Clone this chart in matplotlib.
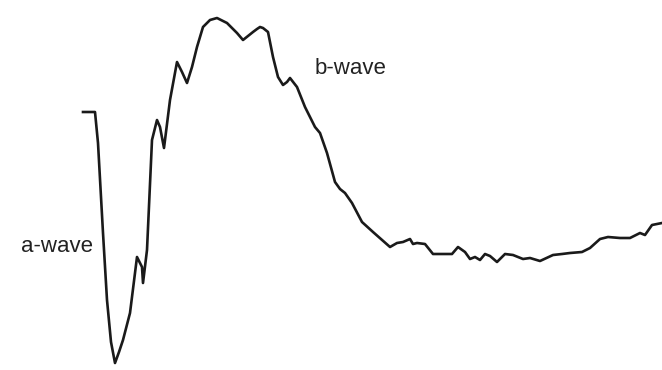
import matplotlib.pyplot as plt

# ERG trace: time (px units) and amplitude (baseline = 0, up positive)
time = [83, 95, 98, 103, 107, 111, 115, 119, 123, 130, 137, 142, 143, 147, 152, 157, 160,
        164, 170, 177, 182, 187, 192, 197, 203, 210, 217, 227, 237, 243, 248, 253, 257, 260,
        263, 268, 273, 278, 283, 287, 290, 297, 305, 315, 320, 327, 335, 340, 345, 352,
        362, 373, 390, 397, 403, 410, 413, 417, 425, 433, 440, 452, 458, 465, 470, 475,
        480, 485, 490, 497, 505, 513, 523, 530, 540, 553, 562, 570, 582, 590, 600, 608,
        620, 630, 640, 645, 652, 657, 662]
amplitude = [0, 0, -31, -121, -188, -230, -251, -240, -228, -201, -145, -155, -171, -138,
             -28, -8, -15, -36, 12, 50, 40, 29, 45, 65, 85, 92, 94, 89, 79, 72, 76, 80, 83,
             85, 84, 80, 55, 35, 27, 30, 34, 25, 5, -15, -21, -41, -70, -77, -81, -91, -110,
             -120, -135, -131, -130, -127, -132, -131, -132, -142, -142, -142, -135, -140,
             -147, -145, -148, -142, -144, -150, -142, -143, -147, -146, -149, -143, -142,
             -141, -140, -136, -127, -125, -126, -126, -121, -123, -113, -112, -111]

labels = ["a-wave", "b-wave"]
label_pos = [(57, -134), (350, 44)]

fig = plt.figure(figsize=(6.62, 3.70), dpi=100)
ax = fig.add_axes([0, 0, 1, 1])
ax.plot(time, amplitude, color='#1a1a1a', linewidth=1.9, solid_joinstyle='round')
for txt, (x, y) in zip(labels, label_pos):
    ax.text(x, y, txt, fontsize=16, family='Liberation Sans', color='#222222',
            ha='center', va='center')
ax.set_xlim(0, 662)
ax.set_ylim(-258, 112)
ax.axis('off')
fig.savefig('out.png', dpi=100)
